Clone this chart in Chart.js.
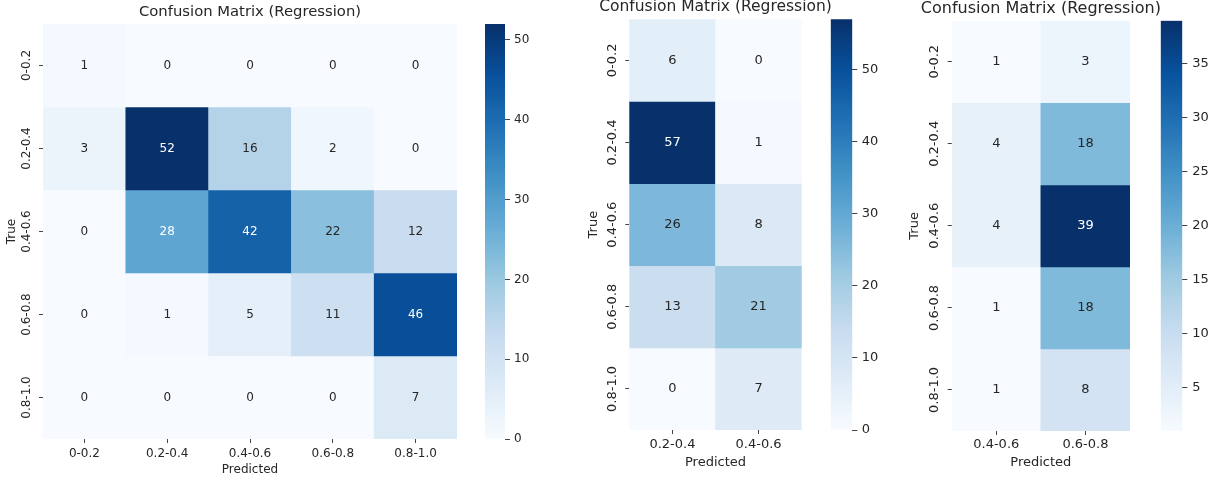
<!DOCTYPE html>
<html>
<head>
<meta charset="utf-8">
<script src="https://cdn.jsdelivr.net/npm/chart.js@4.4.1/dist/chart.umd.min.js"></script>
<style>
    html, body { margin: 0; padding: 0; background: #fff; }
    body { width: 1225px; height: 485px; position: relative; overflow: hidden; }
    canvas { position: absolute; top: 0; }
</style>
</head>
<body>
<canvas id="hm1"></canvas>
<canvas id="hm2"></canvas>
<canvas id="hm3"></canvas>
<canvas id="cb1"></canvas>
<canvas id="cb2"></canvas>
<canvas id="cb3"></canvas>
<script>
// categorias (linhas = verdadeiro, colunas = previsto)
const trueLabels = ['0-0.2', '0.2-0.4', '0.4-0.6', '0.6-0.8', '0.8-1.0'];
const predLabels1 = ['0-0.2', '0.2-0.4', '0.4-0.6', '0.6-0.8', '0.8-1.0'];
const predLabels2 = ['0.2-0.4', '0.4-0.6'];
const predLabels3 = ['0.4-0.6', '0.6-0.8'];

// contagens, uma linha por faixa verdadeira
const counts1 = [
    [1, 0, 0, 0, 0],
    [3, 52, 16, 2, 0],
    [0, 28, 42, 22, 12],
    [0, 1, 5, 11, 46],
    [0, 0, 0, 0, 7]
];
const counts2 = [
    [6, 0],
    [57, 1],
    [26, 8],
    [13, 21],
    [0, 7]
];
const counts3 = [
    [1, 3],
    [4, 18],
    [4, 39],
    [1, 18],
    [1, 8]
];

// ticks das barras de cor
const cbTicks1 = [0, 10, 20, 30, 40, 50];
const cbTicks2 = [0, 10, 20, 30, 40, 50];
const cbTicks3 = [5, 10, 15, 20, 25, 30, 35];

const TITLE = 'Confusion Matrix (Regression)';
const FONT = "'DejaVu Sans', sans-serif";
const INK = '#262626';
const H = 485;

Chart.defaults.font.family = FONT;
Chart.defaults.color = INK;

// paleta "Blues" (matplotlib)
const blues = ['#f7fbff', '#deebf7', '#c6dbef', '#9ecae1', '#6baed6', '#4292c6', '#2171b5', '#08519c', '#08306b'];
const bluesRgb = blues.map(h => [1, 3, 5].map(i => parseInt(h.substr(i, 2), 16)));

function cmapRgb(t) {
    t = Math.max(0, Math.min(1, t));
    const p = t * (blues.length - 1);
    const i = Math.min(blues.length - 2, Math.floor(p));
    const f = p - i;
    const a = bluesRgb[i], b = bluesRgb[i + 1];
    return a.map((v, k) => Math.round(v + (b[k] - v) * f));
}

// mesma regra do seaborn para a cor do texto
function textColor(rgb) {
    const lin = rgb.map(c => {
        c = c / 255;
        return c <= 0.03928 ? c / 12.92 : Math.pow((c + 0.055) / 1.055, 2.4);
    });
    const lum = 0.2126 * lin[0] + 0.7152 * lin[1] + 0.0722 * lin[2];
    return lum > 0.408 ? INK : '#ffffff';
}

// titulo centrado sobre a area do grafico
const plotTitle = {
    id: 'plotTitle',
    afterDraw(chart, args, opts) {
        const { left, right } = chart.chartArea;
        const ctx = chart.ctx;
        ctx.save();
        ctx.font = opts.size + 'px ' + FONT;
        ctx.fillStyle = INK;
        ctx.textAlign = 'center';
        ctx.textBaseline = 'middle';
        ctx.fillText(opts.text, (left + right) / 2, opts.y);
        ctx.restore();
    }
};

// numeros dentro das celulas
const cellText = {
    id: 'cellText',
    afterDatasetsDraw(chart, args, opts) {
        const ctx = chart.ctx;
        ctx.save();
        ctx.font = opts.size + 'px ' + FONT;
        ctx.textAlign = 'center';
        ctx.textBaseline = 'middle';
        chart.data.datasets.forEach((ds, r) => {
            chart.getDatasetMeta(r).data.forEach((bar, c) => {
                const p = bar.getCenterPoint();
                ctx.fillStyle = ds.textColors[c];
                ctx.fillText(String(ds.values[c]), p.x, p.y);
            });
        });
        ctx.restore();
    }
};

// rotulos do eixo y girados 90 graus
const yTickText = {
    id: 'yTickText',
    afterDraw(chart, args, opts) {
        const s = chart.scales.y;
        const ctx = chart.ctx;
        ctx.save();
        ctx.font = opts.size + 'px ' + FONT;
        ctx.fillStyle = INK;
        ctx.textAlign = 'center';
        ctx.textBaseline = 'middle';
        s.ticks.forEach((t, i) => {
            ctx.save();
            ctx.translate(s.right - opts.offset, s.getPixelForTick(i));
            ctx.rotate(-Math.PI / 2);
            ctx.fillText(trueLabels[i], 0, 0);
            ctx.restore();
        });
        ctx.restore();
    }
};

function setupCanvas(id, left, width) {
    const cvs = document.getElementById(id);
    cvs.width = width;
    cvs.height = H;
    cvs.style.left = left + 'px';
    cvs.style.width = width + 'px';
    cvs.style.height = H + 'px';
    return cvs;
}

function drawHeatmap(id, g) {
    const flat = g.counts.flat();
    const vmin = Math.min(...flat), vmax = Math.max(...flat);
    const width = g.canvasRight - g.canvasLeft;
    const cvs = setupCanvas(id, g.canvasLeft, width);
    const lh = g.tick * 1.2;

    return new Chart(cvs, {
        type: 'bar',
        data: {
            labels: g.pred,
            datasets: trueLabels.map((lab, r) => {
                const cols = g.counts[r].map(v => cmapRgb((v - vmin) / (vmax - vmin)));
                return {
                    label: lab,
                    data: g.pred.map(() => [r, r + 1]),
                    values: g.counts[r],
                    textColors: cols.map(textColor),
                    backgroundColor: cols.map(c => 'rgb(' + c.join(',') + ')'),
                    borderWidth: 0,
                    grouped: false,
                    barPercentage: 1,
                    categoryPercentage: 1
                };
            })
        },
        options: {
            responsive: false,
            animation: false,
            layout: { padding: { left: 0, top: g.top, right: g.canvasRight - g.right, bottom: 0 } },
            plugins: {
                legend: { display: false },
                tooltip: { enabled: false },
                plotTitle: { text: TITLE, size: g.title, y: g.titleY },
                cellText: { size: g.tick },
                yTickText: { size: g.tick, offset: g.yTickOff }
            },
            scales: {
                x: {
                    type: 'category',
                    offset: true,
                    grid: { drawOnChartArea: false, offset: false, tickLength: 4, tickColor: '#444', tickWidth: 1 },
                    border: { display: false },
                    ticks: { color: INK, font: { size: g.tick }, padding: g.xTickY - (g.bottom + 4) - lh / 2, maxRotation: 0, autoSkip: false },
                    title: { display: true, text: 'Predicted', color: INK, font: { size: g.tick }, padding: { top: 0, bottom: H - g.predY - lh / 2 } },
                    afterFit: s => { s.height = H - g.bottom; }
                },
                y: {
                    type: 'linear',
                    min: 0,
                    max: trueLabels.length,
                    reverse: true,
                    afterBuildTicks: s => { s.ticks = trueLabels.map((_, i) => ({ value: i + 0.5 })); },
                    grid: { drawOnChartArea: false, tickLength: 4, tickColor: '#444', tickWidth: 1 },
                    border: { display: false },
                    ticks: { display: false },
                    title: { display: true, text: 'True', color: INK, font: { size: g.tick }, padding: { top: (g.trueX - g.canvasLeft) - lh / 2, bottom: 0 } },
                    afterFit: s => { s.width = g.left - g.canvasLeft; }
                }
            }
        },
        plugins: [plotTitle, cellText, yTickText]
    });
}

function drawColorbar(id, g, tickVals) {
    const flat = g.counts.flat();
    const vmin = Math.min(...flat), vmax = Math.max(...flat);
    const left = Math.floor(g.cbL) - 5;
    const width = Math.ceil(g.cbR) + 45 - left;
    const cvs = setupCanvas(id, left, width);

    return new Chart(cvs, {
        type: 'bar',
        data: {
            labels: [''],
            datasets: [{
                data: [[vmin, vmax]],
                backgroundColor: c => {
                    const chart = c.chart;
                    const y = chart.scales.y;
                    if (!y || !chart.chartArea) return blues[4];
                    const grad = chart.ctx.createLinearGradient(0, y.getPixelForValue(vmin), 0, y.getPixelForValue(vmax));
                    blues.forEach((col, i) => grad.addColorStop(i / (blues.length - 1), col));
                    return grad;
                },
                borderWidth: 0,
                barPercentage: 1,
                categoryPercentage: 1
            }]
        },
        options: {
            responsive: false,
            animation: false,
            layout: { padding: { left: g.cbL - left, top: g.top, right: 0, bottom: H - g.bottom } },
            plugins: { legend: { display: false }, tooltip: { enabled: false } },
            scales: {
                x: { display: false },
                y: {
                    position: 'right',
                    min: vmin,
                    max: vmax,
                    afterBuildTicks: s => { s.ticks = tickVals.map(v => ({ value: v })); },
                    grid: { drawOnChartArea: false, tickLength: 5, tickColor: '#444', tickWidth: 1 },
                    border: { display: false },
                    ticks: { color: INK, font: { size: g.tick }, padding: g.cbPad },
                    afterFit: s => { s.width = width - (g.cbR - left); }
                }
            }
        }
    });
}

const g1 = {
    counts: counts1, pred: predLabels1,
    canvasLeft: 0, canvasRight: 470,
    left: 43, right: 457, top: 24, bottom: 439,
    title: 14.8, tick: 12, titleY: 12.2,
    yTickOff: 16, trueX: 11.5, xTickY: 454, predY: 470,
    cbL: 485, cbR: 505, cbPad: 4
};
const g2 = {
    counts: counts2, pred: predLabels2,
    canvasLeft: 560, canvasRight: 840,
    left: 629.3, right: 801.7, top: 19.3, bottom: 430,
    title: 15.5, tick: 13, titleY: 7.3,
    yTickOff: 17, trueX: 593.3, xTickY: 445, predY: 462.7,
    cbL: 830.7, cbR: 852.3, cbPad: 4.4
};
const g3 = {
    counts: counts3, pred: predLabels3,
    canvasLeft: 890, canvasRight: 1170,
    left: 951.7, right: 1130, top: 20.7, bottom: 431,
    title: 16, tick: 13, titleY: 8.6,
    yTickOff: 16.7, trueX: 915, xTickY: 445, predY: 463,
    cbL: 1160.7, cbR: 1182.3, cbPad: 5
};

drawHeatmap('hm1', g1);
drawHeatmap('hm2', g2);
drawHeatmap('hm3', g3);
drawColorbar('cb1', g1, cbTicks1);
drawColorbar('cb2', g2, cbTicks2);
drawColorbar('cb3', g3, cbTicks3);
</script>
</body>
</html>
